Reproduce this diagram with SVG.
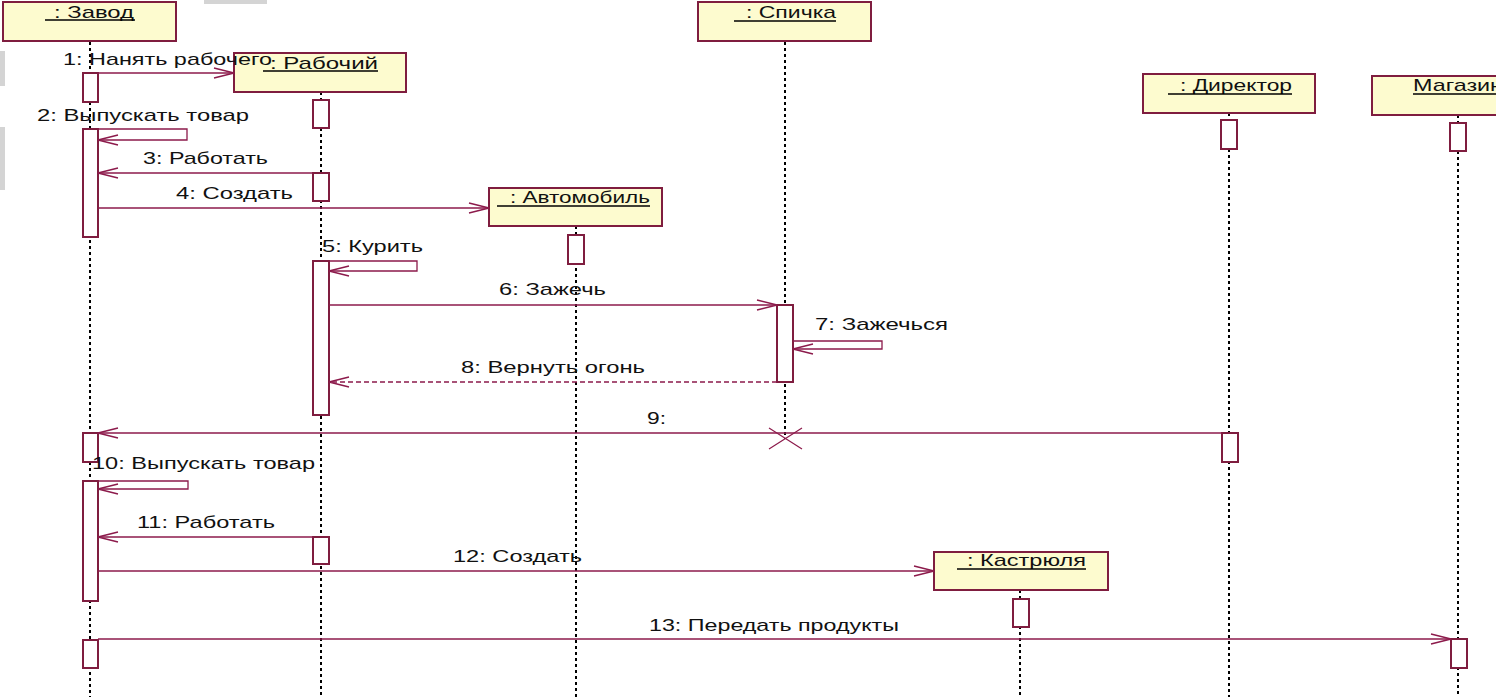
<svg xmlns="http://www.w3.org/2000/svg" width="1496" height="697" viewBox="0 0 1496 697">
<defs>
<marker id="arr" markerUnits="userSpaceOnUse" markerWidth="24" markerHeight="14" viewBox="-22 -7 24 14" refX="0" refY="0" orient="auto">
<path d="M-20,-5 L0,0 L-20,5" fill="none" stroke="#8c1a4b" stroke-width="1.3"/>
</marker>
<style>
.obj{fill:#fdfbcf;stroke:#7f1d3f;stroke-width:2}
.act{fill:#fff;stroke:#7f1d3f;stroke-width:2}
.life{stroke:#000;stroke-width:2;stroke-dasharray:3 3;fill:none}
.msg{stroke:#8c1a4b;stroke-width:1.3;fill:none;marker-end:url(#arr)}
.ret{stroke-dasharray:5 3}
.ul{stroke:#000;stroke-width:1.5}
text{font-family:"Liberation Sans",Arial,sans-serif;font-size:17px;fill:#111}
.art{fill:#d4d4d4}
</style>
</defs>
<rect width="1496" height="697" fill="#fff"/>
<g id="artifacts">
<rect class="art" x="0" y="51" width="5" height="35"/>
<rect class="art" x="0" y="127" width="5" height="63"/>
<rect class="art" x="204" y="0" width="63" height="4"/>
</g>

<g id="lifelines">
<line class="life" x1="90" y1="42" x2="90" y2="697"/>
<line class="life" x1="321" y1="92" x2="321" y2="697"/>
<line class="life" x1="785" y1="42" x2="785" y2="439"/>
<line class="life" x1="576" y1="226" x2="576" y2="697"/>
<line class="life" x1="1229" y1="113" x2="1229" y2="697"/>
<line class="life" x1="1458" y1="115" x2="1458" y2="697"/>
<line class="life" x1="1020" y1="590" x2="1020" y2="697"/>
</g>

<g id="zavod">
<rect class="obj" x="3" y="2" width="173" height="39"/>
<text x="54" y="18" textLength="80" lengthAdjust="spacingAndGlyphs">: Завод</text>
<line class="ul" x1="45" y1="20" x2="135" y2="20"/>
<rect class="act" x="83" y="73" width="15" height="29"/>
<rect class="act" x="83" y="129" width="15" height="108"/>
<rect class="act" x="83" y="433" width="15" height="29"/>
<rect class="act" x="83" y="481" width="15" height="120"/>
<rect class="act" x="83" y="640" width="15" height="28"/>
</g>

<g id="rabochiy">
<rect class="obj" x="234" y="53" width="172" height="39"/>
<text x="270" y="69" textLength="108" lengthAdjust="spacingAndGlyphs">: Рабочий</text>
<line class="ul" x1="263" y1="71" x2="378" y2="71"/>
<rect class="act" x="313" y="100" width="16" height="28"/>
<rect class="act" x="313" y="173" width="16" height="28"/>
<rect class="act" x="313" y="261" width="16" height="154"/>
<rect class="act" x="313" y="537" width="16" height="27"/>
</g>

<g id="spichka">
<rect class="obj" x="698" y="2" width="173" height="39"/>
<text x="746" y="18" textLength="90" lengthAdjust="spacingAndGlyphs">: Спичка</text>
<line class="ul" x1="734" y1="21" x2="836" y2="21"/>
<rect class="act" x="777" y="305" width="16" height="77"/>
<path d="M769,428 L802,449 M769,449 L802,428" stroke="#8c1a4b" stroke-width="1.2" fill="none"/>
</g>

<g id="avtomobil">
<rect class="obj" x="489" y="188" width="173" height="38"/>
<text x="510" y="203" textLength="140" lengthAdjust="spacingAndGlyphs">: Автомобиль</text>
<line class="ul" x1="497" y1="206" x2="650" y2="206"/>
<rect class="act" x="568" y="235" width="16" height="29"/>
</g>

<g id="direktor">
<rect class="obj" x="1143" y="74" width="172" height="39"/>
<text x="1180" y="91" textLength="112" lengthAdjust="spacingAndGlyphs">: Директор</text>
<line class="ul" x1="1168" y1="94" x2="1292" y2="94"/>
<rect class="act" x="1221" y="120" width="16" height="29"/>
<rect class="act" x="1222" y="433" width="16" height="29"/>
</g>

<g id="magazin">
<rect class="obj" x="1372" y="76" width="140" height="39"/>
<text x="1413" y="91" textLength="90" lengthAdjust="spacingAndGlyphs">Магазин</text>
<line class="ul" x1="1413" y1="94" x2="1496" y2="94"/>
<rect class="act" x="1450" y="123" width="16" height="28"/>
<rect class="act" x="1451" y="639" width="16" height="29"/>
</g>

<g id="kastryulya">
<rect class="obj" x="934" y="552" width="174" height="38"/>
<text x="967" y="566" textLength="119" lengthAdjust="spacingAndGlyphs">: Кастрюля</text>
<line class="ul" x1="957" y1="569" x2="1086" y2="569"/>
<rect class="act" x="1013" y="599" width="16" height="28"/>
</g>

<g id="connectors">
<line class="msg" x1="98" y1="73" x2="234" y2="73"/>
<path class="msg" d="M98,129 H187 V140 H98"/>
<line class="msg" x1="313" y1="173" x2="98" y2="173"/>
<line class="msg" x1="98" y1="208" x2="489" y2="208"/>
<path class="msg" d="M329,261 H417 V271 H329"/>
<line class="msg" x1="329" y1="305" x2="777" y2="305"/>
<path class="msg" d="M793,341 H882 V349 H793"/>
<line class="msg ret" x1="777" y1="382" x2="329" y2="382"/>
<line class="msg" x1="1222" y1="433" x2="98" y2="433"/>
<path class="msg" d="M98,481 H188 V489 H98"/>
<line class="msg" x1="313" y1="537" x2="98" y2="537"/>
<line class="msg" x1="98" y1="571" x2="934" y2="571"/>
<line class="msg" x1="98" y1="639" x2="1451" y2="639"/>
</g>

<g id="labels">
<text x="63" y="65" textLength="209" lengthAdjust="spacingAndGlyphs">1: Нанять рабочего</text>
<text x="37" y="121" textLength="212" lengthAdjust="spacingAndGlyphs">2: Выпускать товар</text>
<text x="143" y="164" textLength="125" lengthAdjust="spacingAndGlyphs">3: Работать</text>
<text x="176" y="199" textLength="117" lengthAdjust="spacingAndGlyphs">4: Создать</text>
<text x="322" y="252" textLength="101" lengthAdjust="spacingAndGlyphs">5: Курить</text>
<text x="499" y="295" textLength="107" lengthAdjust="spacingAndGlyphs">6: Зажечь</text>
<text x="815" y="330" textLength="133" lengthAdjust="spacingAndGlyphs">7: Зажечься</text>
<text x="461" y="373" textLength="184" lengthAdjust="spacingAndGlyphs">8: Вернуть огонь</text>
<text x="647" y="424" textLength="19" lengthAdjust="spacingAndGlyphs">9:</text>
<text x="92" y="469" textLength="223" lengthAdjust="spacingAndGlyphs">10: Выпускать товар</text>
<text x="137" y="528" textLength="138" lengthAdjust="spacingAndGlyphs">11: Работать</text>
<text x="453" y="562" textLength="129" lengthAdjust="spacingAndGlyphs">12: Создать</text>
<text x="649" y="631" textLength="250" lengthAdjust="spacingAndGlyphs">13: Передать продукты</text>
</g>
</svg>
